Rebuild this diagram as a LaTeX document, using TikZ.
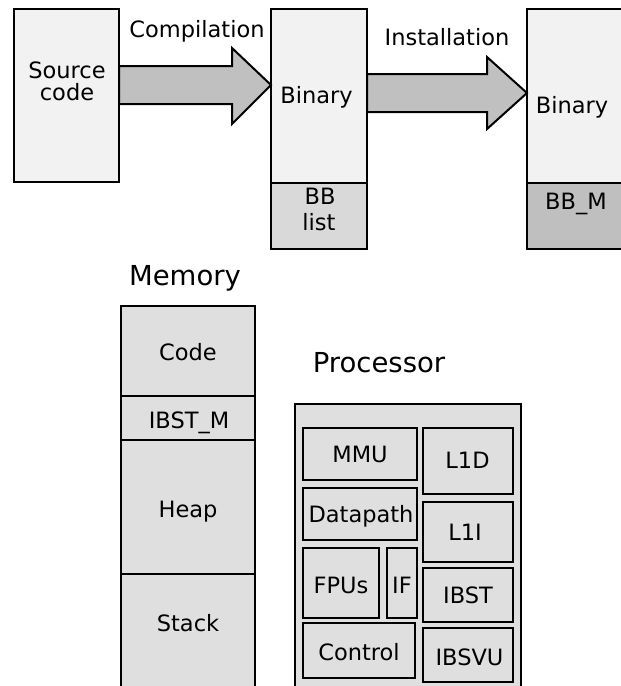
\documentclass[tikz,border=0pt]{standalone}
\usepackage{fontspec}
\setmainfont{DejaVu Sans}
\definecolor{light}{HTML}{F2F2F2}
\definecolor{bblist}{HTML}{D9D9D9}
\definecolor{bbm}{HTML}{BFBFBF}
\definecolor{mem}{HTML}{DFDFDF}
\definecolor{arrowgray}{HTML}{C0C0C0}
\begin{document}
\begin{tikzpicture}[x=1pt,y=-1pt,
  box/.style={draw=black,line width=2pt,inner sep=0pt,outer sep=0pt},
  txt/.style={inner sep=0pt,anchor=base,font=\fontsize{22.5}{23}\selectfont},
  big/.style={inner sep=0pt,anchor=base,font=\fontsize{27.5}{28}\selectfont},
  fat/.style={draw=black,line width=2pt,fill=arrowgray,line join=miter}]
\useasboundingbox (0,0) rectangle (621,686);
\clip (0,0) rectangle (621,686);
% top row boxes
\node[box,fill=light,minimum width=105,minimum height=173] (src) at (66.5,95.5) {};
\node[box,fill=light,minimum width=96,minimum height=174] (bin1) at (319,96) {};
\node[box,fill=bblist,minimum width=96,minimum height=66] (bbl) at (319,216) {};
\node[box,fill=light,minimum width=96,minimum height=174] (bin2) at (575,96) {};
\node[box,fill=bbm,minimum width=96,minimum height=66] (bbm) at (575,216) {};
% block arrows
\draw[fat] (119,66) -- (232,66) -- (232,48) -- (bin1.west |- 0,85) -- (232,124) -- (232,104) -- (119,104) -- cycle;
\draw[fat] (367,74) -- (487,74) -- (487,57) -- (bin2.west |- 0,93) -- (487,129) -- (487,112) -- (367,112) -- cycle;
% top texts
\node[txt] (srct1) at (67,78) {Source};
\node[txt] (srct2) at (67,100) {code};
\node[txt] (comp) at (197,37) {Compilation};
\node[txt] (bin1t) at (316.5,103) {Binary};
\node[txt] (bbt1) at (320,204) {BB};
\node[txt] (bbt2) at (319,230) {list};
\node[txt] (inst) at (447,45) {Installation};
\node[txt] (bin2t) at (572,113) {Binary};
\node[txt] (bbmt) at (576,209) {BB\_M};
% memory
\node[big] (memt) at (185,285) {Memory};
\node[box,fill=mem,minimum width=134,minimum height=90] (code) at (188,351) {};
\node[box,fill=mem,minimum width=134,minimum height=44] (ibstm) at (188,418) {};
\node[box,fill=mem,minimum width=134,minimum height=134] (heap) at (188,507) {};
\node[box,fill=mem,minimum width=134,minimum height=126] (stack) at (188,637) {};
\node[txt] (codet) at (188,360) {Code};
\node[txt] (ibstmt) at (189,428) {IBST\_M};
\node[txt] (heapt) at (188,517) {Heap};
\node[txt] (stackt) at (188,631) {Stack};
% processor
\node[big] (proct) at (379,372) {Processor};
\node[box,fill=mem,minimum width=226,minimum height=296] (proc) at (408,552) {};
\node[box,fill=mem,minimum width=114,minimum height=52] (mmu) at (360,454) {};
\node[box,fill=mem,minimum width=90,minimum height=66] (lid) at (468,461) {};
\node[box,fill=mem,minimum width=114,minimum height=52] (dp) at (360,514) {};
\node[box,fill=mem,minimum width=90,minimum height=60] (lii) at (468,532) {};
\node[box,fill=mem,minimum width=76,minimum height=70] (fpu) at (341,583) {};
\node[box,fill=mem,minimum width=30,minimum height=70] (if) at (402,583) {};
\node[box,fill=mem,minimum width=90,minimum height=54] (ibst) at (468,595) {};
\node[box,fill=mem,minimum width=112,minimum height=55] (ctl) at (359,650.5) {};
\node[box,fill=mem,minimum width=90,minimum height=54] (ibsvu) at (468,655) {};
\node[txt] (mmut) at (360,462) {MMU};
\node[txt] (lidt) at (467.5,468) {L1D};
\node[txt] (dpt) at (361,522) {Datapath};
\node[txt] (liit) at (465,540) {L1I};
\node[txt] (fput) at (341,593) {FPUs};
\node[txt] (ift) at (402,593) {IF};
\node[txt] (ibstt) at (468,603) {IBST};
\node[txt] (ctlt) at (359,660) {Control};
\node[txt] (ibsvut) at (469.5,665) {IBSVU};
\end{tikzpicture}
\end{document}
